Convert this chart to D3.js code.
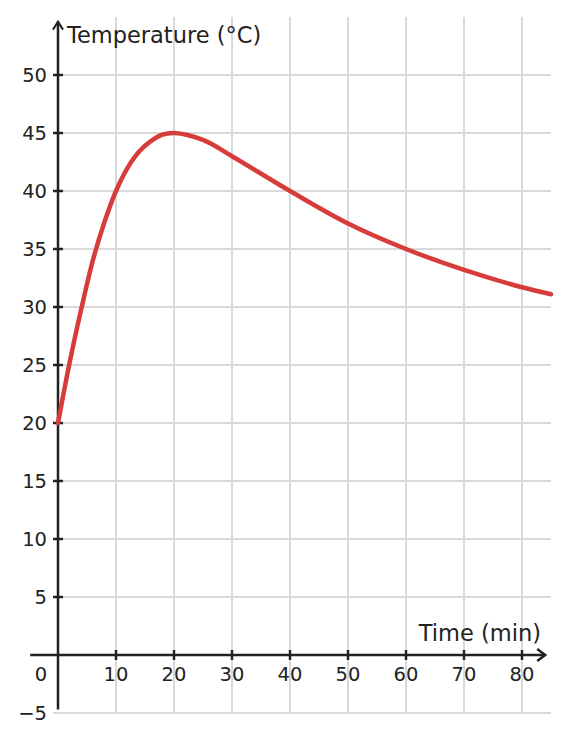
<!DOCTYPE html>
<html>
<head>
<meta charset="utf-8">
<script src="https://d3js.org/d3.v7.min.js"></script>
<style>
  html, body { margin: 0; padding: 0; background: #fff; }
  text { font-family: "DejaVu Sans", sans-serif; fill: #222; }
</style>
</head>
<body>
<script>
// readings
const times = [0, 2, 4, 6, 8, 10, 12, 14, 16, 18, 20, 25, 30, 40, 50, 60, 70, 80, 85];
const temps = [20, 25.2, 29.8, 34.0, 37.3, 40, 42, 43.4, 44.3, 44.85, 45, 44.4, 43.0, 40, 37.2, 35, 33.2, 31.7, 31.1];
const xTicks = [10, 20, 30, 40, 50, 60, 70, 80];
const yTicks = [5, 10, 15, 20, 25, 30, 35, 40, 45, 50];
const yGrid = [-5, 5, 10, 15, 20, 25, 30, 35, 40, 45, 50];

const width = 568, height = 741;

const svg = d3.select("body").append("svg")
  .attr("width", width)
  .attr("height", height);

const x = d3.scaleLinear().domain([-5, 85]).range([29, 551]);
const y = d3.scaleLinear().domain([-5, 55]).range([713, 17]);

// grid
svg.append("g").selectAll("line").data(xTicks).join("line")
  .attr("x1", d => x(d)).attr("x2", d => x(d))
  .attr("y1", y(-5)).attr("y2", y(55))
  .attr("stroke", "#d9d9d9").attr("stroke-width", 2);
svg.append("g").selectAll("line").data(yGrid).join("line")
  .attr("x1", x(0) - 5).attr("x2", x(85))
  .attr("y1", d => y(d)).attr("y2", d => y(d))
  .attr("stroke", "#d9d9d9").attr("stroke-width", 2);

// axes
const axisColor = "#222";
svg.append("line")
  .attr("x1", x(-4.8)).attr("x2", x(84))
  .attr("y1", y(0)).attr("y2", y(0))
  .attr("stroke", axisColor).attr("stroke-width", 2.5);
svg.append("line")
  .attr("x1", x(0)).attr("x2", x(0))
  .attr("y1", y(-4.7)).attr("y2", y(54.6))
  .attr("stroke", axisColor).attr("stroke-width", 2.5);

// arrow heads
svg.append("path")
  .attr("d", `M${x(84) - 8},${y(0) - 6} L${x(84)},${y(0)} L${x(84) - 8},${y(0) + 6}`)
  .attr("fill", "none").attr("stroke", axisColor).attr("stroke-width", 2.5);
svg.append("path")
  .attr("d", `M${x(0) - 5},${y(54.6) + 8} L${x(0)},${y(54.6)} L${x(0) + 5},${y(54.6) + 8}`)
  .attr("fill", "none").attr("stroke", axisColor).attr("stroke-width", 2);

// ticks
svg.append("g").selectAll("line").data(xTicks).join("line")
  .attr("x1", d => x(d)).attr("x2", d => x(d))
  .attr("y1", y(0) - 5).attr("y2", y(0) + 5)
  .attr("stroke", axisColor).attr("stroke-width", 2.5);
svg.append("g").selectAll("line").data(yTicks).join("line")
  .attr("x1", x(0) - 5).attr("x2", x(0) + 5)
  .attr("y1", d => y(d)).attr("y2", d => y(d))
  .attr("stroke", axisColor).attr("stroke-width", 2.5);

// tick labels
svg.append("g").selectAll("text").data(xTicks).join("text")
  .attr("x", d => x(d)).attr("y", y(0) + 26)
  .attr("text-anchor", "middle").attr("font-size", 19.5)
  .text(d => d);
svg.append("g").selectAll("text").data(yTicks.concat([-5])).join("text")
  .attr("x", x(0) - 11).attr("y", d => y(d) + 7)
  .attr("text-anchor", "end").attr("font-size", 19.5)
  .text(d => d < 0 ? "\u2212" + Math.abs(d) : d);
svg.append("text")
  .attr("x", x(0) - 17).attr("y", y(0) + 26)
  .attr("text-anchor", "middle").attr("font-size", 19.5)
  .text("0");

// axis titles
svg.append("text")
  .attr("x", x(0) + 9).attr("y", 43)
  .attr("font-size", 22.5)
  .text("Temperature (°C)");
svg.append("text")
  .attr("x", 541).attr("y", 641)
  .attr("text-anchor", "end").attr("font-size", 22.5)
  .text("Time (min)");

// curve
const line = d3.line()
  .x((d, i) => x(times[i]))
  .y(d => y(d))
  .curve(d3.curveCatmullRom.alpha(0.5));
svg.append("path")
  .datum(temps)
  .attr("d", line)
  .attr("fill", "none")
  .attr("stroke", "#d63c3a")
  .attr("stroke-width", 4.5)
  .attr("stroke-linecap", "round");
</script>
</body>
</html>
